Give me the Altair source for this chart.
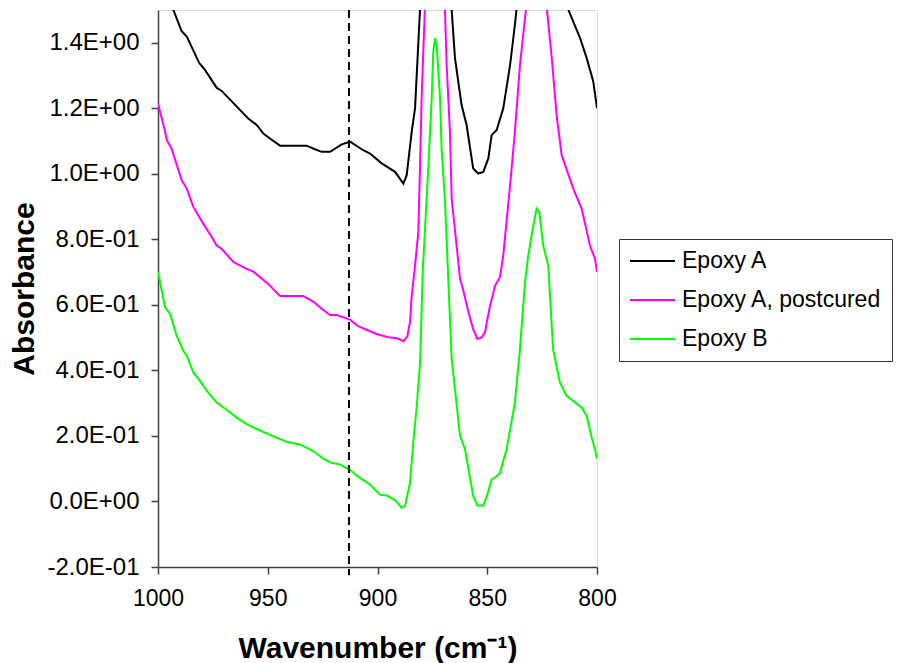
import altair as alt
import pandas as pd

series_names = ["Epoxy A", "Epoxy A, postcured", "Epoxy B"]
series_colors = ["#000000", "#FF00FF", "#00FF00"]

black_wn = [1000, 996, 993.0, 989.2, 986.9, 981.2, 978.6, 973.3, 971.0, 958.9, 955.0, 952.0, 949.0,
            944.4, 932.3, 928.5, 925.4, 921.6, 916.3, 912.5, 906.5, 903.4, 898.1, 892.0, 888.2, 886.7,
            884.4, 882.9, 880.6, 878, 873, 868, 866.2, 864.7, 861.7, 859.4, 856.4, 854.1, 851.8, 849.5,
            848.0, 845.7, 842.7, 839.6, 837.4, 836.6, 830, 826, 820, 813.0, 807.7, 804.7, 801.7, 800]
black_abs = [1.62, 1.56, 1.50, 1.435, 1.419, 1.338, 1.317, 1.263, 1.253, 1.169, 1.149, 1.123, 1.108,
             1.086, 1.086, 1.075, 1.067, 1.067, 1.090, 1.098, 1.072, 1.062, 1.032, 1.006, 0.970, 0.996,
             1.129, 1.200, 1.506, 2.0, 2.4, 2.0, 1.50, 1.353, 1.210, 1.149, 1.016, 1.001, 1.006, 1.047,
             1.118, 1.134, 1.200, 1.332, 1.455, 1.506, 2.2, 2.4, 2.0, 1.50, 1.414, 1.353, 1.282, 1.20]

mag_wn = [1000, 996.8, 996.0, 993.8, 989.2, 986.9, 983.9, 979.4, 975.5, 973.3, 971.0, 965.7, 959.6,
          956.6, 949.8, 944.4, 933.8, 929.3, 925.4, 921.6, 918.6, 912.5, 908.8, 904.9, 900.4, 895.1,
          891.3, 888.2, 886.4, 885.2, 884.4, 882.9, 881.4, 880.6, 879.9, 878.4, 875, 872, 869.3, 868.5,
          867.0, 866.2, 862.4, 860.9, 858.6, 856.4, 854.5, 852.5, 851.0, 850.2, 848.7, 846.4, 844.2,
          842.7, 839.6, 837.4, 835.1, 832.3, 828, 826, 822.9, 820.6, 818.4, 816.1, 810.8, 807.0, 803.2,
          800.9, 800]
mag_abs = [1.215, 1.129, 1.103, 1.077, 0.980, 0.955, 0.899, 0.848, 0.807, 0.781, 0.771, 0.731, 0.710,
           0.702, 0.664, 0.627, 0.627, 0.610, 0.588, 0.569, 0.569, 0.555, 0.535, 0.524, 0.511, 0.501,
           0.499, 0.489, 0.504, 0.547, 0.628, 0.720, 0.822, 1.026, 1.230, 1.506, 1.9, 1.9, 1.506, 1.332,
           1.129, 0.924, 0.680, 0.644, 0.578, 0.526, 0.496, 0.501, 0.516, 0.547, 0.598, 0.659, 0.685,
           0.751, 0.965, 1.129, 1.332, 1.506, 1.9, 1.9, 1.506, 1.353, 1.179, 1.057, 0.955, 0.894, 0.781,
           0.741, 0.70]

green_wn = [1000, 996.8, 994.5, 991.5, 988.5, 986.9, 983.9, 980.9, 977.8, 973.3, 968.7, 964.1, 959.6,
            952.0, 945.9, 941.4, 935.3, 929.3, 924.7, 920.9, 917.1, 912.5, 908.8, 903.4, 898.9, 895.8,
            892.0, 889.0, 887.5, 885.2, 883.7, 882.1, 880.6, 879.4, 876.8, 875.3, 874.6, 873.8, 873.0,
            871.5, 870.8, 869.3, 867.7, 866.2, 862.4, 860.1, 856.4, 854.5, 851.8, 850.2, 848.0, 845.7,
            844.2, 841.2, 837.4, 835.1, 832.8, 831.3, 829.0, 827.5, 826.3, 824.5, 822.2, 820.0, 816.9,
            813.8, 810.8, 807.0, 804.7, 802.4, 800.9, 800]
green_abs = [0.700, 0.593, 0.572, 0.506, 0.460, 0.445, 0.394, 0.368, 0.338, 0.302, 0.280, 0.256, 0.236,
             0.212, 0.195, 0.182, 0.174, 0.154, 0.131, 0.118, 0.113, 0.096, 0.076, 0.052, 0.021, 0.018,
             0.004, -0.019, -0.014, 0.057, 0.180, 0.292, 0.425, 0.70, 1.026, 1.230, 1.373, 1.414, 1.389,
             1.230, 1.077, 0.924, 0.669, 0.435, 0.200, 0.159, 0.016, -0.012, -0.012, 0.016, 0.067, 0.077,
             0.088, 0.159, 0.302, 0.465, 0.669, 0.751, 0.843, 0.894, 0.884, 0.781, 0.720, 0.465, 0.363,
             0.322, 0.307, 0.287, 0.261, 0.195, 0.159, 0.13]

marker_wn = [913.0]
marker_top = [1.5]
marker_bottom = [-0.225]

x_ticks = [1000, 950, 900, 850, 800]
y_ticks = [-0.2, 0.0, 0.2, 0.4, 0.6, 0.8, 1.0, 1.2, 1.4]

assert len(black_wn) == len(black_abs)
assert len(mag_wn) == len(mag_abs)
assert len(green_wn) == len(green_abs)

rows = []
for name, wns, vals in [(series_names[0], black_wn, black_abs),
                        (series_names[1], mag_wn, mag_abs),
                        (series_names[2], green_wn, green_abs)]:
    for w, v in zip(wns, vals):
        rows.append({"series": name, "wn": w, "abs": v})
df = pd.DataFrame(rows)
marker_df = pd.DataFrame({"wn": marker_wn, "top": marker_top, "bottom": marker_bottom})

FONT = "Liberation Sans"

x_scale = alt.Scale(domain=[800, 1000], reverse=True, nice=False, zero=False)
y_scale = alt.Scale(domain=[-0.2, 1.5], nice=False, zero=False)

y_label_expr = ("replace(replace(replace(upper(format(datum.value, '.1e')), '\u2212', '-'), "
                "'E+', 'E+0'), 'E-', 'E-0')")

x_axis = alt.Axis(values=x_ticks, format="d", grid=False, title="Wavenumber (cm⁻¹)",
                  labelFontSize=23, labelFont=FONT, labelColor="#000000", labelFlush=False,
                  tickSize=7, labelPadding=13, tickColor="#404040", domainColor="#404040",
                  domainWidth=1.5, tickWidth=1.5,
                  titleFontSize=30, titleFont=FONT, titleFontWeight="bold", titleColor="#000000",
                  titleBaseline="alphabetic", titleY=90)
y_axis = alt.Axis(values=y_ticks, grid=False, title="Absorbance",
                  labelExpr=y_label_expr, labelFlush=False,
                  labelFontSize=24, labelFont=FONT, labelColor="#000000",
                  tickSize=7, labelPadding=12, tickColor="#404040", domainColor="#404040",
                  domainWidth=1.5, tickWidth=1.5,
                  titleFontSize=30, titleFont=FONT, titleFontWeight="bold", titleColor="#000000",
                  titleBaseline="alphabetic", titleX=-125, titleY=278.5)

lines = alt.Chart(df).mark_line(clip=True, strokeWidth=2).encode(
    x=alt.X("wn:Q", scale=x_scale, axis=x_axis),
    y=alt.Y("abs:Q", scale=y_scale, axis=y_axis),
    color=alt.Color("series:N",
                    scale=alt.Scale(domain=series_names, range=series_colors),
                    legend=alt.Legend(title=None, orient="none", legendX=461, legendY=229,
                                      strokeColor="#333333", fillColor="#FFFFFF", padding=10,
                                      symbolType="stroke", symbolSize=2025, symbolStrokeWidth=2,
                                      clipHeight=24,
                                      labelFontSize=23, labelFont=FONT, labelColor="#000000",
                                      labelLimit=400, labelOffset=6, rowPadding=15)),
    order=alt.Order("wn:Q", sort="descending"),
)

marker = alt.Chart(marker_df).mark_rule(color="#000000", strokeWidth=2, strokeDash=[8, 5], clip=False).encode(
    x=alt.X("wn:Q", scale=x_scale),
    y=alt.Y("top:Q", scale=y_scale),
    y2="bottom:Q",
)

chart = alt.layer(lines, marker).properties(
    width=439, height=557,
    padding={"left": 158, "top": 10, "right": 302, "bottom": 96},
    autosize=alt.AutoSizeParams(type="none"),
    background="#FFFFFF",
).configure_view(stroke="#808080", strokeWidth=1.5).configure(font=FONT)

chart.save("out.html", embed_options={"renderer": "svg", "actions": False})
